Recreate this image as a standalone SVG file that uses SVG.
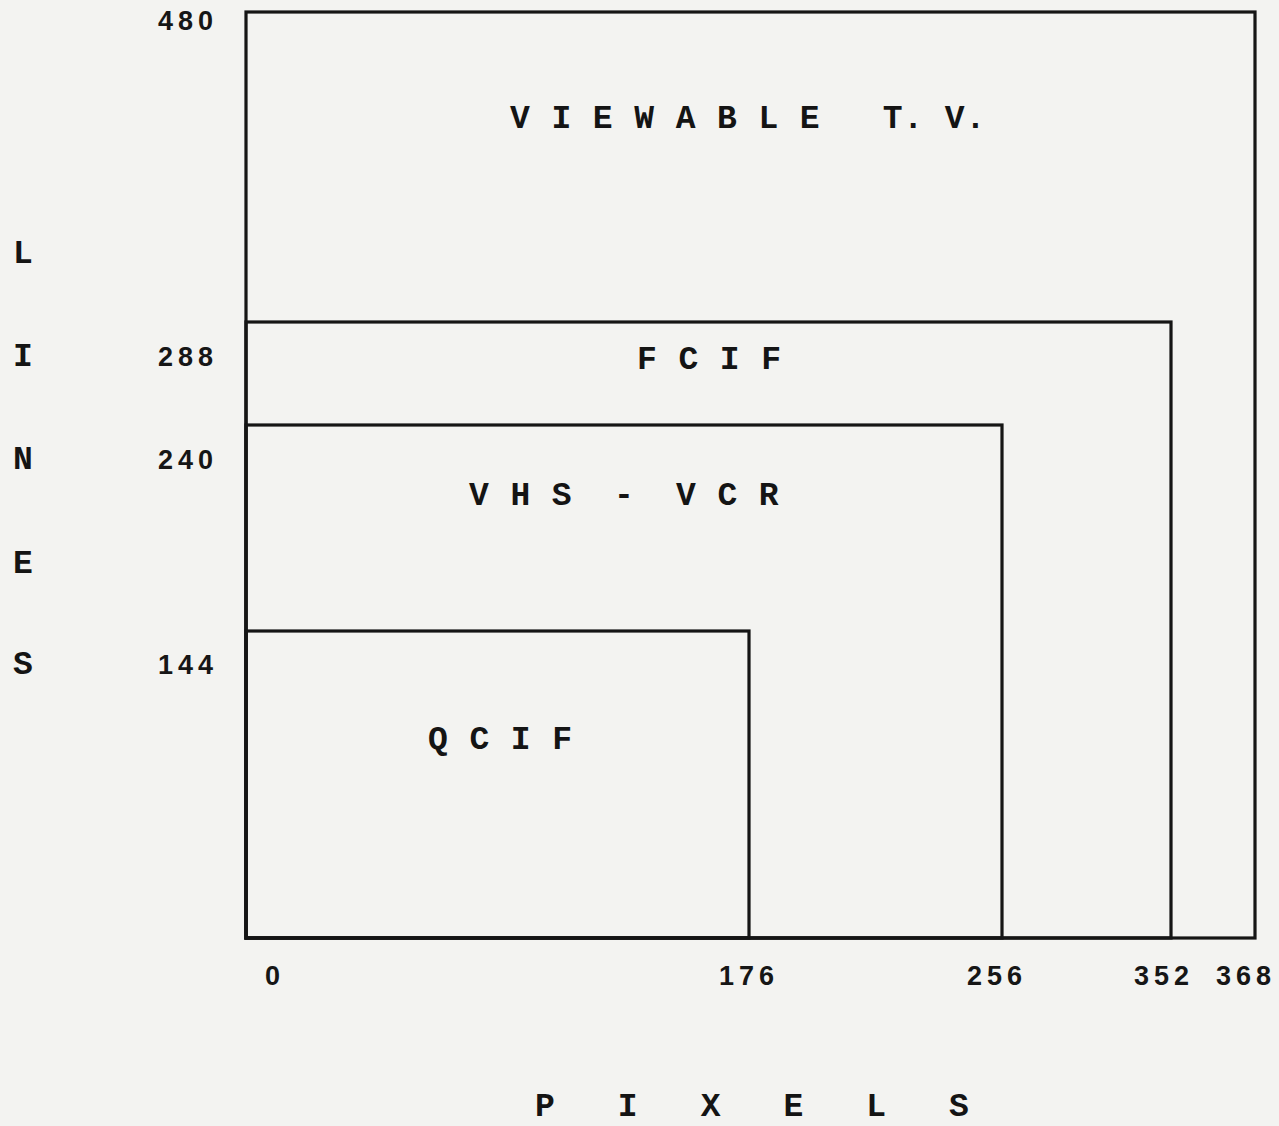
<svg xmlns="http://www.w3.org/2000/svg" width="1279" height="1126" viewBox="0 0 1279 1126">
  <style>
    .frame { fill: none; stroke: #151515; stroke-width: 3.2; }
    .lbl { font-family: "Liberation Mono", "DejaVu Sans Mono", monospace; font-weight: bold; font-size: 33px; letter-spacing: 0.9px; fill: #141414; white-space: pre; }
    .num { font-family: "Liberation Sans", "DejaVu Sans", sans-serif; font-weight: bold; font-size: 27px; letter-spacing: 5px; fill: #161616; }
  </style>
  <rect x="0" y="0" width="1279" height="1126" fill="#f3f3f1"/>

  <g id="viewable-tv">
    <rect class="frame" x="246" y="12" width="1009" height="926"/>
    <text class="lbl" x="510" y="128" xml:space="preserve">V I E W A B L E   T. V.</text>
  </g>
  <g id="fcif">
    <rect class="frame" x="246" y="322" width="925" height="616"/>
    <text class="lbl" x="637" y="369" xml:space="preserve">F C I F</text>
  </g>
  <g id="vhs-vcr">
    <rect class="frame" x="246" y="425" width="756" height="513"/>
    <text class="lbl" x="469" y="505" xml:space="preserve">V H S  -  V C R</text>
  </g>
  <g id="qcif">
    <rect class="frame" x="246" y="631" width="503" height="307"/>
    <text class="lbl" x="428" y="749" xml:space="preserve">Q C I F</text>
  </g>

  <g id="y-axis">
    <text class="lbl" x="13" y="263">L</text>
    <text class="lbl" x="13" y="366">I</text>
    <text class="lbl" x="13" y="469">N</text>
    <text class="lbl" x="13" y="573">E</text>
    <text class="lbl" x="13" y="674">S</text>
    <text class="num" x="158" y="30">480</text>
    <text class="num" x="158" y="366">288</text>
    <text class="num" x="158" y="469">240</text>
    <text class="num" x="158" y="674">144</text>
  </g>

  <g id="x-axis">
    <text class="num" x="265" y="985">0</text>
    <text class="num" x="719" y="985">176</text>
    <text class="num" x="967" y="985">256</text>
    <text class="num" x="1134" y="985">352</text>
    <text class="num" x="1216" y="985">368</text>
    <text class="lbl" x="535" y="1116" xml:space="preserve">P   I   X   E   L   S</text>
  </g>
</svg>
